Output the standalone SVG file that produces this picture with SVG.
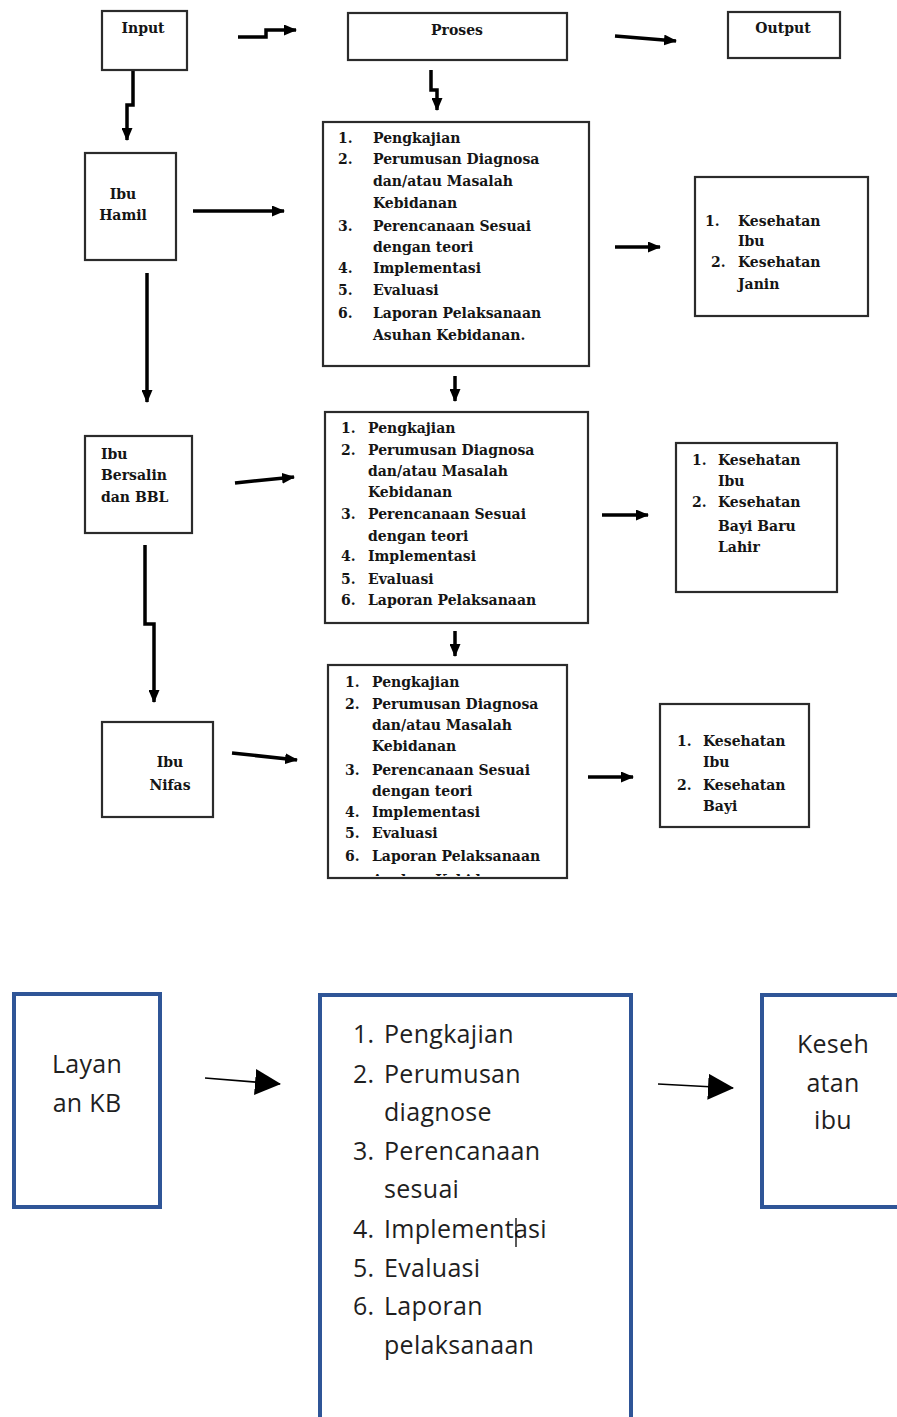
<svg xmlns="http://www.w3.org/2000/svg" width="897" height="1417" viewBox="0 0 897 1417">
  <style>
    .box { fill: #ffffff; stroke: #2b2b2b; stroke-width: 2.2; }
    .kb { fill: #ffffff; stroke: #2f5597; stroke-width: 4; }
    .t { font-family: "DejaVu Serif", "Liberation Serif", serif; font-weight: bold; font-size: 14px; fill: #151515; }
    .c { text-anchor: middle; }
    .s { font-family: "Open Sans", Lato, "Liberation Sans", sans-serif; font-size: 25px; letter-spacing: 0.3px; fill: #1f1f1f; }
    .wire { fill: none; stroke: #000000; stroke-width: 3.5; }
    .thin { fill: none; stroke: #000000; stroke-width: 1.6; }
  </style>
  <defs>
    <marker id="head" viewBox="0 0 13 11" refX="12" refY="5.5" markerWidth="13" markerHeight="11" markerUnits="userSpaceOnUse" orient="auto">
      <path d="M0,0 L13,5.5 L0,11 z" fill="#000000"/>
    </marker>
    <marker id="bighead" viewBox="0 0 26 26" refX="25" refY="13" markerWidth="26" markerHeight="26" markerUnits="userSpaceOnUse" orient="auto">
      <path d="M0,0 L26,13 L0,26 z" fill="#000000"/>
    </marker>
    <clipPath id="clip3">
      <rect x="329" y="666" width="237" height="210"/>
    </clipPath>
  </defs>

  <!-- connectors -->
  <g id="connectors">
    <path class="wire" d="M238,37 H266 V30 H296" marker-end="url(#head)"/>
    <path class="wire" d="M615,36 L676,41" marker-end="url(#head)"/>
    <path class="wire" d="M133,70 V105 H127 V140" marker-end="url(#head)"/>
    <path class="wire" d="M431,70 V90 H437 V110" marker-end="url(#head)"/>
    <path class="wire" d="M193,211 H284" marker-end="url(#head)"/>
    <path class="wire" d="M147,273 V402" marker-end="url(#head)"/>
    <path class="wire" d="M615,247 H660" marker-end="url(#head)"/>
    <path class="wire" d="M455,376 V401" marker-end="url(#head)"/>
    <path class="wire" d="M235,483 L294,477" marker-end="url(#head)"/>
    <path class="wire" d="M602,515 H648" marker-end="url(#head)"/>
    <path class="wire" d="M145,545 V624 H154 V702" marker-end="url(#head)"/>
    <path class="wire" d="M455,631 V656" marker-end="url(#head)"/>
    <path class="wire" d="M232,753 L297,760" marker-end="url(#head)"/>
    <path class="wire" d="M588,777 H633" marker-end="url(#head)"/>
    <path class="thin" d="M205,1078 L280,1084" marker-end="url(#bighead)"/>
    <path class="thin" d="M658,1084 L733,1088" marker-end="url(#bighead)"/>
  </g>

  <!-- header row -->
  <g id="input">
    <rect class="box" x="102" y="11" width="85" height="59"/>
    <text class="t c" x="143" y="33">Input</text>
  </g>
  <g id="proses">
    <rect class="box" x="348" y="13" width="219" height="47"/>
    <text class="t c" x="457" y="35">Proses</text>
  </g>
  <g id="output">
    <rect class="box" x="728" y="12" width="112" height="46"/>
    <text class="t c" x="783" y="33">Output</text>
  </g>

  <!-- pregnancy -->
  <g id="ibu-hamil">
    <rect class="box" x="85" y="153" width="91" height="107"/>
    <text class="t c" x="123" y="199">Ibu</text>
    <text class="t c" x="123" y="220">Hamil</text>
  </g>
  <g id="proses-hamil">
    <rect class="box" x="323" y="122" width="266" height="244"/>
    <text class="t" x="338" y="143">1.</text><text class="t" x="373" y="143">Pengkajian</text>
    <text class="t" x="338" y="164">2.</text><text class="t" x="373" y="164">Perumusan Diagnosa</text>
    <text class="t" x="373" y="186">dan/atau Masalah</text>
    <text class="t" x="373" y="208">Kebidanan</text>
    <text class="t" x="338" y="231">3.</text><text class="t" x="373" y="231">Perencanaan Sesuai</text>
    <text class="t" x="373" y="252">dengan teori</text>
    <text class="t" x="338" y="273">4.</text><text class="t" x="373" y="273">Implementasi</text>
    <text class="t" x="338" y="295">5.</text><text class="t" x="373" y="295">Evaluasi</text>
    <text class="t" x="338" y="318">6.</text><text class="t" x="373" y="318">Laporan Pelaksanaan</text>
    <text class="t" x="373" y="340">Asuhan Kebidanan.</text>
  </g>
  <g id="output-hamil">
    <rect class="box" x="695" y="177" width="173" height="139"/>
    <text class="t" x="705" y="226">1.</text><text class="t" x="738" y="226">Kesehatan</text>
    <text class="t" x="738" y="246">Ibu</text>
    <text class="t" x="711" y="267">2.</text><text class="t" x="738" y="267">Kesehatan</text>
    <text class="t" x="738" y="289">Janin</text>
  </g>

  <!-- labour and newborn -->
  <g id="ibu-bersalin">
    <rect class="box" x="85" y="436" width="107" height="97"/>
    <text class="t" x="101" y="459">Ibu</text>
    <text class="t" x="101" y="480">Bersalin</text>
    <text class="t" x="101" y="502">dan BBL</text>
  </g>
  <g id="proses-bersalin">
    <rect class="box" x="325" y="412" width="263" height="211"/>
    <text class="t" x="341" y="433">1.</text><text class="t" x="368" y="433">Pengkajian</text>
    <text class="t" x="341" y="455">2.</text><text class="t" x="368" y="455">Perumusan Diagnosa</text>
    <text class="t" x="368" y="476">dan/atau Masalah</text>
    <text class="t" x="368" y="497">Kebidanan</text>
    <text class="t" x="341" y="519">3.</text><text class="t" x="368" y="519">Perencanaan Sesuai</text>
    <text class="t" x="368" y="541">dengan teori</text>
    <text class="t" x="341" y="561">4.</text><text class="t" x="368" y="561">Implementasi</text>
    <text class="t" x="341" y="584">5.</text><text class="t" x="368" y="584">Evaluasi</text>
    <text class="t" x="341" y="605">6.</text><text class="t" x="368" y="605">Laporan Pelaksanaan</text>
  </g>
  <g id="output-bersalin">
    <rect class="box" x="676" y="443" width="161" height="149"/>
    <text class="t" x="692" y="465">1.</text><text class="t" x="718" y="465">Kesehatan</text>
    <text class="t" x="718" y="486">Ibu</text>
    <text class="t" x="692" y="507">2.</text><text class="t" x="718" y="507">Kesehatan</text>
    <text class="t" x="718" y="531">Bayi Baru</text>
    <text class="t" x="718" y="552">Lahir</text>
  </g>

  <!-- postpartum -->
  <g id="ibu-nifas">
    <rect class="box" x="102" y="722" width="111" height="95"/>
    <text class="t c" x="170" y="767">Ibu</text>
    <text class="t c" x="170" y="790">Nifas</text>
  </g>
  <g id="proses-nifas">
    <rect class="box" x="328" y="665" width="239" height="213"/>
    <text class="t" x="345" y="687">1.</text><text class="t" x="372" y="687">Pengkajian</text>
    <text class="t" x="345" y="709">2.</text><text class="t" x="372" y="709">Perumusan Diagnosa</text>
    <text class="t" x="372" y="730">dan/atau Masalah</text>
    <text class="t" x="372" y="751">Kebidanan</text>
    <text class="t" x="345" y="775">3.</text><text class="t" x="372" y="775">Perencanaan Sesuai</text>
    <text class="t" x="372" y="796">dengan teori</text>
    <text class="t" x="345" y="817">4.</text><text class="t" x="372" y="817">Implementasi</text>
    <text class="t" x="345" y="838">5.</text><text class="t" x="372" y="838">Evaluasi</text>
    <text class="t" x="345" y="861">6.</text><text class="t" x="372" y="861">Laporan Pelaksanaan</text>
    <!-- last line runs past the frame and is cut by it -->
    <text class="t" x="372" y="885" clip-path="url(#clip3)">Asuhan Kebidanan</text>
  </g>
  <g id="output-nifas">
    <rect class="box" x="660" y="704" width="149" height="123"/>
    <text class="t" x="677" y="746">1.</text><text class="t" x="703" y="746">Kesehatan</text>
    <text class="t" x="703" y="767">Ibu</text>
    <text class="t" x="677" y="790">2.</text><text class="t" x="703" y="790">Kesehatan</text>
    <text class="t" x="703" y="811">Bayi</text>
  </g>

  <!-- family planning -->
  <g id="layanan-kb">
    <rect class="kb" x="14" y="994" width="146" height="213"/>
    <text class="s c" x="87" y="1073">Layan</text>
    <text class="s c" x="87" y="1112">an KB</text>
  </g>
  <g id="proses-kb">
    <rect class="kb" x="320" y="995" width="311" height="440"/>
    <text class="s" x="353" y="1043">1.</text><text class="s" x="384" y="1043">Pengkajian</text>
    <text class="s" x="353" y="1083">2.</text><text class="s" x="384" y="1083">Perumusan</text>
    <text class="s" x="384" y="1121">diagnose</text>
    <text class="s" x="353" y="1160">3.</text><text class="s" x="384" y="1160">Perencanaan</text>
    <text class="s" x="384" y="1198">sesuai</text>
    <text class="s" x="353" y="1238">4.</text><text class="s" x="384" y="1238">Implementasi</text>
    <line x1="516" y1="1218" x2="516" y2="1247" stroke="#000000" stroke-width="1.3"/>
    <text class="s" x="353" y="1277">5.</text><text class="s" x="384" y="1277">Evaluasi</text>
    <text class="s" x="353" y="1315">6.</text><text class="s" x="384" y="1315">Laporan</text>
    <text class="s" x="384" y="1354">pelaksanaan</text>
  </g>
  <g id="output-kb">
    <rect class="kb" x="762" y="995" width="150" height="212"/>
    <text class="s c" x="833" y="1053">Keseh</text>
    <text class="s c" x="833" y="1092">atan</text>
    <text class="s c" x="833" y="1129">ibu</text>
  </g>
</svg>
